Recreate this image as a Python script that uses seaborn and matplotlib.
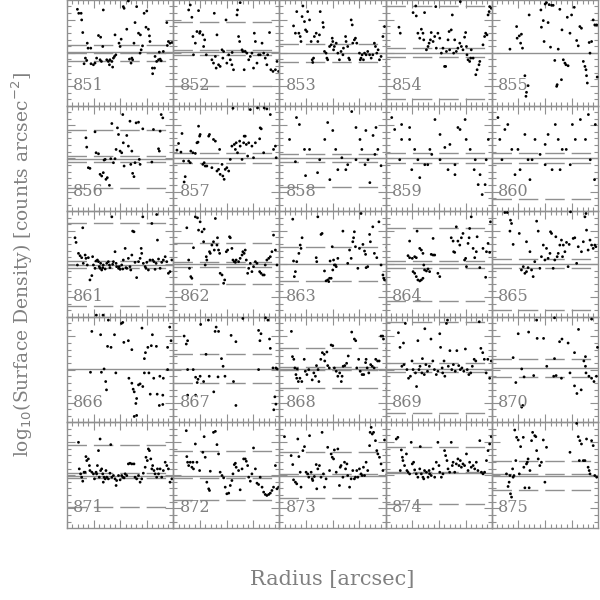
import numpy as np
import pandas as pd
import seaborn as sns
import matplotlib
matplotlib.use("Agg")
import matplotlib.pyplot as plt
from matplotlib.ticker import MultipleLocator

# ---------------- data (radius [arcsec], log10 surface density offset) ----------------
panel_ids = list(range(851, 876))

r851 = [3.9,4.4,5.3,5.5,5.9,7.6,7.9,8.9,6.9,6.4,7.4,9.0,9.9,10.5,11.1,11.8,12.6,13.4,12.4,13.6,12.9,14.9,15.5,16.1,15.9,16.8,17.4,17.1,17.8,18.3,18.0,19.5,20.3,19.9,21.1,21.4,23.0,22.4,23.4,24.3,24.0,24.6,25.1,25.5,26.1,26.8,27.5,27.4,27.8,28.3,28.9,29.9,29.6,30.5,30.9,31.1,32.0,32.8,32.1,33.0,33.6,34.3,34.6,34.9,35.3,36.1,37.6,38.0,38.6,39.4,37.4]
d851 = [1.31,1.19,1.19,0.99,0.61,0.29,0.14,0.14,-0.16,-0.33,-0.23,-0.33,-0.36,-0.31,-0.16,0.52,0.47,0.19,-0.21,1.29,-0.26,-0.21,-0.26,-0.21,-0.36,-0.26,-0.16,-0.43,-0.11,-0.06,0.54,0.29,0.41,0.19,1.39,1.34,1.56,0.71,-0.19,-0.16,-0.31,-0.21,0.29,0.91,1.39,0.59,0.54,-0.01,0.09,0.21,1.19,1.26,0.77,0.71,0.51,0.34,-0.46,-0.46,-0.63,-0.11,-0.26,-0.21,0.02,-0.19,-0.24,0.04,0.22,0.34,0.29,0.31,0.91]

r852 = [6.4,5.8,7.0,9.5,7.4,8.3,8.9,9.9,10.1,11.1,11.8,11.4,7.6,12.4,14.5,15.1,15.4,16.4,15.8,16.1,17.0,17.6,18.3,18.9,18.6,19.8,20.1,20.8,21.4,22.0,22.6,22.1,23.9,24.1,24.5,24.9,25.1,25.8,26.1,27.0,26.6,27.6,28.3,28.9,29.5,30.1,30.4,30.8,31.4,32.0,32.6,33.3,33.9,34.5,35.1,35.4,36.1,36.6,37.4,38.3,38.9,39.5]
d852 = [1.44,1.29,1.07,1.27,0.49,0.29,0.64,0.59,0.64,0.54,0.39,0.19,-0.06,-0.06,-0.21,-0.31,1.19,0.54,-0.11,-0.46,-0.36,-0.41,0.09,0.04,-0.16,0.99,-0.31,-0.06,-0.21,-0.36,-0.51,0.01,1.14,1.29,0.49,0.34,1.51,0.09,0.04,0.04,-0.51,-0.01,-0.21,-0.11,-0.01,-0.46,0.59,0.34,-0.31,-0.06,-0.06,0.29,-0.01,-0.16,-0.36,-0.06,0.61,-0.51,-0.56,-0.51,-0.26,-0.56]

r853 = [5.3,6.0,6.5,7.3,7.8,8.1,8.5,8.8,9.4,9.8,10.3,10.6,11.3,11.9,12.3,12.5,12.8,13.1,13.8,14.4,15.0,15.3,16.3,16.5,16.9,17.5,17.8,18.1,18.8,19.4,19.8,20.0,20.3,20.6,21.3,21.9,22.5,23.1,23.8,24.0,24.8,25.0,25.6,26.0,26.3,26.9,27.3,27.5,28.1,28.5,29.0,30.0,30.3,30.6,31.0,31.5,31.9,32.5,33.1,33.8,34.4,35.0,35.6,36.0,36.5,37.0,37.5,38.1,38.8,39.4]
d853 = [0.81,0.59,1.24,0.59,0.49,0.34,1.09,1.41,0.94,0.69,0.64,1.24,0.99,0.34,-0.21,-0.29,-0.16,0.49,0.59,0.34,0.54,1.24,0.91,0.77,0.04,-0.01,-0.16,-0.21,0.19,0.24,0.44,0.34,0.09,0.19,0.29,-0.01,-0.21,0.04,-0.06,0.14,0.49,0.34,0.19,-0.16,-0.21,0.99,0.84,0.29,0.39,0.44,0.29,-0.01,-0.21,-0.16,-0.06,-0.21,-0.01,-0.06,0.04,-0.06,-0.16,-0.06,0.29,0.19,-0.01,0.09,-0.21,-0.11,0.49,0.79]

r854 = [5.0,5.5,10.3,11.3,11.5,12.1,12.8,13.4,14.0,14.3,14.6,15.3,15.9,16.3,16.8,17.1,17.8,18.4,18.8,19.0,19.6,20.3,20.9,21.5,22.1,22.5,22.8,23.4,23.8,24.0,24.6,25.0,25.5,25.9,26.5,27.1,27.8,28.0,28.4,29.0,29.6,30.0,30.3,30.5,30.9,31.5,31.9,32.1,32.8,33.8,34.3,35.0,35.3,36.5,37.1,37.5,38.0,38.4,38.8,39.0,39.6]
d854 = [0.77,0.59,1.21,1.41,1.11,0.59,0.44,0.71,0.59,0.39,1.21,0.09,0.19,0.29,0.39,0.61,0.34,0.49,1.39,0.14,0.59,0.44,-0.01,0.14,-0.41,-0.41,0.04,0.39,0.64,0.09,0.69,1.14,-0.01,0.39,0.04,0.14,0.29,1.54,0.19,0.09,0.47,0.61,0.19,-0.06,-0.21,-0.26,-0.16,0.09,-0.16,-0.66,-0.51,-0.36,-0.26,0.24,0.49,0.59,0.54,1.14,1.24,1.39,1.34]

r855 = [12.4,13.0,12.8,13.6,6.8,9.3,9.5,10.3,11.1,10.8,11.5,14.0,18.4,18.6,19.3,19.6,20.0,20.5,21.1,21.5,22.4,23.0,22.0,23.6,24.9,25.5,26.3,26.8,27.4,27.8,28.3,28.6,29.3,29.9,30.9,31.8,32.4,33.0,33.6,34.3,34.9,35.3,35.5,35.8,36.5,36.8,37.4,38.0,38.6,39.3,39.5,24.3,24.5,26.1]
d855 = [-0.69,-1.19,-1.31,-0.99,0.11,0.79,0.44,0.51,0.56,0.29,0.14,1.14,1.29,0.77,0.97,0.34,1.47,1.51,0.91,1.45,1.43,1.43,0.17,-0.23,0.11,1.31,0.69,-0.21,-0.31,-0.36,1.07,-0.39,0.59,1.14,1.37,0.37,0.21,0.79,0.74,-0.26,-0.41,-0.51,-0.69,-0.91,0.31,-0.01,0.34,0.99,0.84,0.84,-0.73,-1.01,-0.96,-0.81]

r856 = [7.1,7.4,8.0,8.6,10.5,10.9,11.8,12.4,13.0,13.6,13.9,14.3,14.6,15.1,15.9,16.4,16.8,17.4,18.0,18.4,18.9,19.3,19.9,20.5,20.9,21.1,21.4,22.4,23.0,23.6,23.9,24.3,24.6,25.1,25.5,25.9,26.8,27.1,27.4,28.4,31.8,32.4,34.3,34.6,34.9,35.3,35.9]
d856 = [0.62,0.34,-0.28,-0.30,0.80,0.17,0.14,-0.48,-0.53,-0.43,-0.05,-0.03,-0.63,-0.58,-0.81,-0.01,1.05,-0.13,-0.01,0.27,0.92,0.72,0.22,0.17,1.32,0.47,-0.23,0.69,0.37,1.12,-0.18,0.22,-0.45,-0.55,-0.13,1.07,1.09,-0.03,-0.18,0.89,-0.11,0.87,0.29,0.22,0.82,1.32,1.22]

r857 = [1.4,2.0,3.3,2.9,3.9,4.1,4.5,5.8,6.4,6.6,7.4,8.3,8.9,9.3,9.5,9.9,10.1,11.1,11.6,12.0,12.6,13.3,13.6,14.5,15.1,15.8,16.4,17.0,17.4,17.6,18.3,18.6,19.1,19.5,20.1,20.8,21.4,22.0,22.4,22.9,23.3,23.6,24.1,24.9,25.1,25.8,26.4,26.6,27.0,27.4,27.9,28.3,28.9,29.5,30.1,30.8,31.6,32.4,32.6,33.0,33.9,34.1,35.1,36.4,37.6,38.3,38.6]
d857 = [0.25,0.45,0.75,0.19,-0.08,-0.71,-0.55,-0.08,-0.13,0.22,0.17,0.15,0.47,0.49,0.97,0.67,0.72,-0.18,-0.13,-0.23,-0.23,0.67,0.72,-0.28,0.57,0.52,-0.38,-0.33,0.27,-0.48,-0.18,-0.53,-0.63,-0.33,-0.28,-0.38,-0.03,0.37,1.51,0.42,0.27,0.47,0.17,0.52,0.37,-0.03,0.47,0.67,0.67,0.42,0.07,0.47,1.47,0.37,0.02,0.47,1.52,0.59,0.92,0.89,0.17,1.52,1.49,1.32,0.27,0.37,0.02]

r858 = [6.4,7.5,18.1,20.0,21.1,23.4,25.6,27.1,28.7,30.2,32.4,35.1,36.9,38.1,6.0,9.8,14.3,18.9,24.9,28.7,32.1,33.9,35.8,11.3,15.1,3.8,9.4,17.0,21.9,30.9,33.2,36.2]
d858 = [1.23,1.02,1.08,0.84,0.27,0.02,-0.19,1.41,0.93,0.57,0.84,0.69,0.27,-0.22,-0.10,-0.52,-0.43,-0.64,-0.34,-0.04,-0.19,-0.73,0.12,0.27,-0.04,0.57,0.27,0.57,-0.34,0.27,-0.04,0.93]

r859 = [3.4,6.0,9.0,12.1,14.7,16.6,20.4,23.4,26.0,27.9,29.8,31.7,33.6,35.4,37.3,5.3,9.8,18.5,24.1,38.5,2.3,6.0,9.0,10.9,12.8,15.8,17.3,20.4,22.2,26.0,27.1,30.2,33.2,34.7,36.2,37.7]
d859 = [0.87,1.02,0.57,-0.04,-0.19,0.27,-0.04,-0.34,-0.49,0.87,1.17,0.27,-0.04,-0.49,-0.79,-0.04,-0.34,1.17,0.42,0.57,1.23,0.57,0.93,0.27,-0.58,-0.19,0.12,0.72,0.33,-0.19,0.93,0.57,-0.34,-0.79,-1.09,-0.04]

r860 = [2.3,4.9,7.5,10.6,13.6,16.2,18.1,21.1,23.8,26.4,29.4,31.3,33.2,36.2,38.8,3.8,8.7,14.3,20.0,25.6,3.0,6.0,9.8,12.4,15.1,20.0,22.6,24.9,27.9,30.2,35.1,36.9,38.5]
d860 = [1.23,0.87,0.27,-0.34,-0.04,0.57,0.12,0.72,1.02,0.27,-0.19,0.57,1.17,1.32,1.02,-0.04,-0.49,-0.64,-0.19,-0.34,0.57,1.02,0.27,0.72,-0.04,0.42,-0.34,0.57,0.27,1.02,0.57,-0.04,-0.64]

r861 = [3.0,3.4,4.3,3.9,4.9,5.5,5.9,6.1,6.8,7.1,7.6,8.0,8.6,9.3,9.6,9.9,10.5,10.9,11.4,11.8,12.1,12.4,12.6,13.0,13.4,13.6,14.3,14.9,15.5,15.9,16.1,16.8,17.1,17.4,18.0,18.4,18.6,19.3,19.6,19.9,20.5,20.9,21.1,21.8,22.1,22.4,23.0,23.6,23.9,24.3,24.6,25.1,25.5,26.1,26.8,27.4,27.8,28.0,28.4,28.6,29.3,29.6,29.9,30.5,31.1,31.8,32.1,32.6,33.0,33.4,33.6,33.9,34.3,34.9,35.5,36.1,36.8,37.4,38.0,38.6,39.3]
d861 = [0.79,0.65,0.32,-0.03,0.25,0.19,1.09,0.02,0.27,0.17,-0.03,0.19,-0.48,-0.35,0.22,-0.03,-0.13,0.09,0.12,0.07,-0.08,-0.13,0.02,-0.18,-0.11,-0.03,-0.15,0.02,0.07,-0.03,-0.11,1.42,-0.01,0.07,0.37,0.02,-0.08,-0.13,-0.08,-0.16,-0.03,-0.15,0.12,0.47,-0.11,-0.13,0.17,-0.08,-0.18,0.27,0.99,0.97,0.05,-0.41,0.07,0.17,0.47,0.32,1.42,0.02,-0.08,-0.13,0.05,-0.18,0.12,1.22,0.12,0.07,-0.16,0.02,1.49,0.72,0.15,-0.13,0.05,0.12,0.22,0.07,-0.28,-0.23,0.12]

r862 = [5.1,5.8,6.1,6.6,7.0,7.6,8.3,9.1,9.5,10.1,10.8,11.4,11.6,12.0,12.4,12.6,13.6,13.9,14.5,15.1,15.4,15.8,16.4,16.6,17.0,17.4,17.6,18.3,18.9,19.3,19.9,20.4,21.1,21.4,22.0,22.4,22.9,23.3,23.6,24.5,25.1,25.8,26.1,26.6,27.0,27.4,27.9,28.3,28.9,29.5,30.1,30.8,31.4,32.4,32.9,33.6,34.1,34.5,35.1,35.8,36.4,37.0,37.6,38.3,38.9]
d862 = [1.09,0.12,-0.13,-0.38,-0.43,0.49,1.42,1.39,1.02,1.27,0.97,0.67,1.05,-0.03,0.22,0.12,0.37,0.32,0.57,0.67,0.42,1.37,0.57,0.79,0.42,0.32,-0.28,-0.33,-0.58,-0.48,0.37,0.42,0.82,0.79,0.47,0.12,0.07,0.05,0.12,0.07,0.17,0.27,0.37,0.32,0.42,0.12,-0.28,-0.13,0.02,-0.23,-0.08,0.07,0.02,-0.23,-0.28,-0.33,-0.33,-0.03,0.12,0.17,0.22,0.37,0.87,0.42,-0.03]

r863 = [5.0,5.3,6.0,5.6,6.5,7.3,7.8,8.1,8.5,13.8,14.0,14.4,15.6,16.0,16.9,17.5,18.1,18.5,18.8,19.0,19.4,19.8,20.0,20.3,20.6,21.0,21.3,21.9,23.8,25.6,26.3,26.9,27.5,27.8,28.1,28.5,29.4,30.0,30.6,31.3,31.9,32.3,32.5,33.1,33.8,34.1,35.0,35.6,36.5,37.3,38.1,38.8,39.1,39.4]
d863 = [1.35,0.09,-0.23,-0.38,0.07,0.32,0.57,0.47,0.79,0.19,0.07,1.42,0.89,0.92,-0.21,-0.51,-0.48,-0.53,-0.43,0.09,-0.43,0.52,-0.18,0.12,-0.03,-0.03,-0.08,0.17,0.99,0.02,0.42,0.17,0.67,0.79,0.97,0.52,-0.13,0.47,1.52,0.59,0.39,0.29,-0.11,-0.08,0.89,0.67,1.12,0.32,0.19,1.27,-0.03,-0.33,-0.43,-0.48]

r864 = [9.0,8.4,9.0,10.0,10.9,11.5,10.3,10.9,11.5,12.1,12.8,13.4,14.0,14.3,14.6,11.8,12.8,13.4,14.0,15.3,15.9,16.5,17.1,17.8,18.4,17.8,19.6,20.3,24.6,25.3,25.5,25.9,26.5,27.1,27.8,28.4,29.0,29.6,30.0,30.3,30.9,31.3,31.5,32.1,32.8,33.4,34.0,34.3,35.3,36.5,37.5,37.8,38.4,39.0,39.3]
d864 = [0.69,0.25,0.19,0.17,0.22,0.19,-0.23,-0.28,-0.38,-0.48,-0.51,-0.48,-0.43,-0.03,-0.18,0.99,0.47,0.42,0.32,-0.21,-0.15,-0.23,0.29,0.27,0.27,0.77,-0.28,-0.38,0.79,0.69,0.37,0.35,1.12,0.69,0.57,0.79,0.92,0.12,0.17,-0.08,0.62,0.79,1.07,1.42,0.47,0.19,0.37,0.82,-0.11,0.47,-0.40,0.37,0.62,0.35,1.27]

r865 = [4.9,5.8,6.8,7.0,7.4,8.0,10.3,11.1,11.8,12.4,13.0,13.0,13.6,14.3,14.9,15.5,16.1,16.8,17.4,18.0,18.6,19.3,19.9,20.5,21.1,21.8,22.0,22.4,23.0,23.6,24.0,24.5,24.9,25.5,26.1,26.5,26.8,27.4,28.0,28.6,29.0,29.5,30.5,31.1,31.8,32.4,33.6,34.3,34.9,35.3,35.5,36.1,36.8,37.4,38.0,38.6,39.0]
d865 = [1.55,1.55,0.99,1.32,1.22,0.59,0.92,-0.18,-0.08,-0.28,0.67,-0.23,-0.11,0.37,-0.18,-0.38,0.07,1.29,0.99,-0.13,0.22,0.57,0.12,0.47,0.17,0.32,0.97,0.92,-0.13,0.12,0.82,0.22,0.32,0.57,0.72,0.22,0.57,0.37,0.65,-0.08,0.59,1.57,0.77,0.79,0.02,0.52,0.37,0.67,1.42,1.52,1.02,0.42,0.72,0.57,0.47,0.57,0.52]

r866 = [9.3,12.6,11.0,13.5,15.5,15.2,16.5,17.8,20.4,20.9,21.3,23.0,24.3,28.1,29.4,29.0,30.3,32.0,31.6,33.5,37.7,38.5,39.0,8.8,12.9,13.9,14.5,14.8,18.3,23.2,24.3,24.8,25.2,26.1,25.8,26.8,27.4,28.4,29.0,30.7,31.2,32.5,33.8,34.8,34.6,35.9,36.1,37.7,25.2,26.1,35.9]
d866 = [1.15,1.05,1.64,1.64,1.49,0.70,0.67,1.05,1.39,1.42,0.82,0.87,0.60,1.25,0.51,0.33,0.67,1.05,0.72,0.70,0.67,1.28,0.87,-0.08,-0.08,0.02,-0.36,-0.61,-0.10,-0.26,-0.41,-0.59,-0.67,-0.87,-1.02,-0.46,-0.43,-0.51,-0.10,-0.10,-0.74,-0.26,-0.74,-0.20,-1.08,-0.77,-0.26,0.00,-1.41,-1.38,-1.05]

r867 = [4.1,5.4,4.9,10.3,13.2,15.7,17.0,16.1,21.7,23.5,26.1,32.0,32.9,34.6,35.5,36.1,36.4,32.5,5.4,7.5,8.4,9.3,11.4,12.3,5.4,8.4,10.1,15.2,16.8,18.1,18.7,19.4,22.6,23.5,32.0,37.4,38.5,39.0,38.1,38.5,37.7,13.5,9.0]
d867 = [1.01,0.87,0.77,1.36,1.49,1.15,1.15,1.28,1.03,0.84,1.54,1.18,1.08,1.56,1.49,0.92,0.64,0.87,0.00,0.00,-0.23,-0.29,-0.36,0.46,-0.77,-0.77,-0.20,-0.67,-0.22,0.33,0.10,-0.20,-0.36,-1.08,0.00,0.05,0.05,0.02,-0.82,-1.04,-1.21,-0.20,-0.39]

r868 = [4.5,4.9,5.4,5.8,6.5,7.1,7.7,8.4,9.3,9.7,10.3,11.0,12.3,12.9,13.5,13.9,14.5,14.8,15.5,16.1,16.8,17.0,17.8,18.1,18.7,19.4,20.0,20.6,21.3,21.9,22.6,23.2,23.5,23.9,24.5,25.2,25.8,27.1,28.1,28.6,29.0,29.7,30.3,31.0,31.6,32.3,32.5,32.9,33.5,34.2,34.8,35.5,36.1,36.8,37.4,38.1,38.7,39.0,6.2,6.7]
d868 = [1.15,0.39,0.31,0.05,-0.26,-0.36,-0.26,-0.36,0.31,-0.05,-0.15,0.00,-0.31,-0.10,-0.20,0.12,0.00,-0.36,0.31,0.51,0.46,0.26,0.53,0.12,0.05,0.74,0.72,0.05,-0.05,-0.20,-0.10,-0.36,-0.20,0.10,0.12,0.19,0.41,1.13,0.92,0.87,0.05,0.31,-0.05,-0.15,-0.15,0.21,0.31,0.05,-0.10,0.15,0.10,0.05,0.31,0.26,0.26,1.01,1.01,0.92,-0.15,0.02]

r869 = [4.8,5.4,6.7,7.4,9.9,11.2,12.1,12.9,13.8,14.7,16.4,17.0,17.7,18.3,19.0,19.6,20.3,20.6,21.2,21.9,22.8,23.2,23.5,24.1,24.8,25.4,26.1,26.7,27.4,28.0,28.6,29.3,29.9,30.6,31.2,31.9,32.5,33.2,33.8,35.1,35.7,36.4,37.0,37.7,38.3,39.0,39.6,6.1,6.9,8.0,8.6,9.3,10.3,11.6,12.5,13.6,14.5,15.1,15.7,21.4,22.2]
d869 = [1.11,0.67,0.80,1.39,0.26,-0.10,0.87,0.10,0.33,1.23,0.10,0.92,0.26,0.00,-0.15,-0.05,1.08,0.67,0.05,0.26,1.39,1.49,0.10,0.57,0.00,0.15,-0.05,0.57,0.12,0.00,0.05,-0.05,0.62,0.00,-0.15,-0.10,0.10,0.31,0.26,1.44,0.64,0.51,0.31,-0.10,0.31,-0.26,0.26,0.10,0.15,0.00,-0.26,-0.20,0.00,-0.51,0.00,-0.10,-0.15,0.15,-0.05,-0.10,-0.20]

r870 = [9.9,13.8,17.0,19.4,16.8,23.5,25.4,26.3,28.6,32.5,31.0,35.1,37.4,39.6,8.0,11.2,9.0,12.1,15.7,23.5,24.1,26.1,29.3,31.0,31.9,33.5,34.5,35.1,36.4,37.4,38.3,39.2,11.6,11.2,23.2,20.6,35.3]
d870 = [1.08,1.13,0.94,0.94,1.49,1.56,0.84,0.92,0.80,1.21,0.51,0.39,1.52,0.67,0.36,0.02,-0.39,-0.22,-0.18,0.33,-0.18,-0.26,-0.10,-0.49,-0.72,-0.61,0.26,0.10,-0.20,-0.26,-0.36,-0.20,-1.08,-1.13,-0.20,0.10,-0.10]

r871 = [4.3,4.6,5.1,5.5,5.9,6.4,6.8,7.1,7.4,8.0,8.4,8.6,9.3,9.9,10.3,10.9,11.1,11.4,11.8,12.1,12.4,12.6,13.0,13.4,13.6,13.9,14.3,14.6,14.9,15.5,16.1,16.4,16.8,17.4,18.0,18.4,18.6,19.3,19.9,20.5,20.9,21.4,21.8,22.4,23.0,23.6,24.3,25.1,25.5,26.1,26.8,27.4,28.0,28.6,29.3,29.6,30.1,30.5,30.9,31.4,31.8,32.1,32.6,33.0,33.6,33.9,34.3,34.9,35.5,36.1,36.8,37.4,38.0,38.6,39.3]
d871 = [0.99,0.19,0.04,-0.06,-0.18,0.09,0.09,0.56,0.44,0.49,0.29,0.14,0.09,0.04,-0.11,0.09,0.04,0.29,0.74,-0.06,1.09,0.14,0.19,0.04,-0.21,-0.06,-0.11,0.14,-0.06,-0.11,0.06,0.92,-0.06,-0.01,-0.11,-0.31,-0.16,-0.01,-0.14,-0.01,-0.06,-0.08,0.04,-0.01,0.34,0.36,0.34,0.34,-0.06,-0.11,-0.01,-0.21,-0.11,0.06,0.24,0.54,0.44,0.79,0.74,0.49,0.19,0.29,0.14,0.04,-0.06,0.19,0.04,0.19,-0.06,0.14,0.39,0.29,0.19,-0.21,-0.11]

r872 = [4.9,5.1,5.4,5.8,6.4,7.0,7.4,7.6,8.3,8.9,9.9,11.1,11.6,12.0,12.6,13.3,13.6,13.9,15.1,15.8,16.4,17.0,17.6,18.3,18.9,19.5,20.1,20.8,21.4,22.0,22.4,22.9,23.3,23.6,24.5,25.1,25.8,26.4,27.0,27.4,27.9,28.3,28.9,29.5,30.1,30.8,31.4,32.0,32.6,33.3,33.9,34.5,35.1,35.8,36.4,37.0,37.6,38.3,38.9,39.5]
d872 = [1.34,0.56,0.39,0.29,0.39,0.24,0.39,0.19,0.94,0.39,0.14,0.69,1.16,0.54,-0.21,-0.41,-0.46,0.12,1.29,1.32,0.92,0.64,0.09,-0.01,-0.08,-0.36,-0.56,-0.54,-0.31,-0.16,0.04,0.32,0.36,0.24,0.14,-0.44,0.19,0.49,0.49,0.42,0.29,-0.06,-0.18,0.04,0.82,0.19,-0.24,-0.28,-0.06,-0.36,-0.51,-0.58,-0.61,-0.58,-0.54,-0.46,-0.36,0.29,-0.41,-0.36]

r873 = [1.9,4.4,5.0,5.3,6.0,6.5,6.9,7.3,7.8,8.1,8.8,9.4,10.0,10.6,11.0,11.3,11.9,12.3,12.5,13.1,13.8,14.0,14.4,15.0,15.6,16.0,16.5,16.9,17.5,18.1,18.8,19.4,19.8,20.3,20.6,21.3,21.9,22.5,22.8,23.1,23.8,24.4,24.8,25.3,25.6,26.3,26.9,27.5,28.1,28.5,29.0,29.4,30.0,30.6,31.0,31.5,31.9,32.5,33.1,33.8,34.0,34.4,34.8,35.3,36.0,36.5,36.9,37.5,38.1,38.8,39.4]
d873 = [1.16,0.59,0.32,-0.14,-0.21,-0.26,1.09,0.56,0.09,-0.36,0.74,0.86,0.09,0.04,-0.06,1.19,0.09,-0.11,-0.16,-0.04,0.32,-0.41,0.19,0.29,-0.06,1.29,0.04,-0.36,-0.11,0.84,0.14,0.64,0.54,0.49,0.76,0.09,0.79,-0.31,0.24,0.29,-0.06,0.39,0.19,0.34,-0.01,-0.36,-0.11,0.14,-0.11,-0.06,0.14,-0.06,0.19,0.04,-0.01,0.24,-0.01,0.39,0.14,0.89,1.29,1.44,1.24,1.29,1.04,0.74,0.64,0.54,0.34,0.14,1.06]

r874 = [4.0,4.6,5.5,5.9,6.3,6.5,7.1,7.8,8.0,8.4,9.0,9.6,10.0,10.5,10.9,11.5,12.1,12.8,13.0,13.4,14.0,14.3,14.6,15.3,15.9,16.3,16.5,17.1,17.8,18.4,19.0,19.6,20.0,20.3,20.9,21.5,22.1,22.5,23.0,23.4,24.0,24.6,25.0,25.3,25.9,26.5,27.1,27.5,28.0,28.4,29.0,29.6,30.3,30.9,31.5,32.1,32.8,33.4,34.0,34.6,35.3,35.9,36.5,37.1,37.8,38.4,39.0,39.6]
d874 = [1.09,1.14,0.14,0.76,0.54,0.44,0.29,0.64,0.14,0.09,0.04,0.99,0.34,0.39,0.16,0.04,-0.06,0.19,0.86,0.04,-0.06,-0.11,0.14,0.09,-0.06,0.14,0.04,-0.01,0.19,-0.06,0.39,0.99,0.29,0.09,-0.06,0.04,0.74,0.59,0.44,0.19,0.09,0.99,0.29,0.39,0.09,0.34,0.49,0.29,0.44,0.24,0.34,0.29,0.64,0.14,0.39,0.24,0.29,0.19,0.39,0.14,1.04,0.09,0.04,0.09,0.44,0.74,0.94,1.16]

r875 = [5.5,6.1,6.5,7.0,7.4,7.8,8.0,8.6,9.0,9.3,9.9,10.3,10.8,11.8,12.0,12.4,13.0,13.3,13.6,14.0,14.3,14.9,15.3,16.1,16.5,16.8,17.4,18.0,18.6,19.3,19.9,20.5,29.3,31.8,32.4,32.8,33.0,33.6,34.3,34.9,35.5,36.1,36.5,36.8,37.4,38.0,38.6,39.3,6.8,8.3]
d875 = [0.04,-0.34,-0.21,-0.56,-0.66,0.19,-0.06,1.36,0.44,1.14,1.06,0.04,0.86,1.14,0.24,-0.38,0.34,0.39,0.49,-0.38,0.14,1.04,1.29,1.19,1.16,0.74,0.49,0.29,0.39,1.06,-0.21,0.84,0.69,1.56,1.16,0.44,1.04,0.94,0.44,0.44,1.09,0.24,0.14,0.04,1.04,0.89,-0.01,-0.06,-0.01,-0.01]

# reference levels: solid line (mean) and dashed lines per panel
mean_level = [0.02,0.02,-0.01,-0.01,-0.01, -0.01,0.00,0.00,0.00,0.00,
              -0.03,0.00,0.00,-0.01,0.00, 0.03,0.03,0.03,0.03,0.05,
              -0.01,-0.01,-0.01,0.06,-0.01]
dash851 = [0.24,-0.24,-0.01]
dash852 = [0.09,-0.06,0.94,-0.99]
dash853 = [0.26,-0.27]
dash854 = [0.14,-0.13,1.41,-1.38]
dash855 = []
dash856 = [0.07,-0.10,0.85,-0.88]
dash857 = [0.17,-0.15]
dash858 = [0.12,-0.12,-0.85]
dash859 = [0.15,-0.15]
dash860 = [0.15,-0.15]
dash861 = [0.09,-0.13,1.22,-1.25]
dash862 = [0.07,-0.10,0.64,-0.61]
dash863 = [0.52,-0.51]
dash864 = [0.10,-0.13,1.07,-1.10]
dash865 = [0.14,-0.13,1.97]
dash866 = []
dash867 = [0.46,-0.39]
dash868 = [0.08,-0.02,0.64,-0.56]
dash869 = [0.19,-0.08,1.42,-1.31]
dash870 = [0.33,-0.22,1.80]
dash871 = [0.06,-0.08,0.92,-0.96]
dash872 = [-0.08,0.72,-0.74]
dash873 = [0.04,0.69,-0.68]
dash874 = [0.11,0.86,-0.88]
dash875 = [0.04,0.44,-0.46]

# ---------------- assemble ----------------
g = globals()
frames = []
for pid in panel_ids:
    frames.append(pd.DataFrame({"panel": pid, "radius": g[f"r{pid}"], "logsd": g[f"d{pid}"]}))
df = pd.concat(frames, ignore_index=True)

sns.set_theme(style="white")
plt.rcParams["font.family"] = ["DejaVu Serif"]

GRAY = "#909090"
TXT = "#808080"

fig = plt.figure(figsize=(6, 6), dpi=100)
W, H = 600.0, 600.0
left0, top0 = 67.0, 0.0
cw, rh = 106.2, 105.6

for i, pid in enumerate(panel_ids):
    r, c = divmod(i, 5)
    x0 = (left0 + c * cw) / W
    y0 = 1 - (top0 + (r + 1) * rh) / H
    ax = fig.add_axes([x0, y0, cw / W, rh / H])
    sub = df[df["panel"] == pid]
    ax.axhline(mean_level[i], color=GRAY, lw=1.0, zorder=1, clip_on=False)
    for v in g[f"dash{pid}"]:
        ax.axhline(v, color=GRAY, lw=1.0, dashes=(14, 5), zorder=1, clip_on=False)
    sns.scatterplot(data=sub, x="radius", y="logsd", ax=ax, color="black",
                    s=4, linewidth=0, edgecolor="none", legend=False, zorder=3, clip_on=False)
    ax.set_xlim(0, 39.8)
    ax.set_ylim(-1.59, 1.59)
    ax.set_xlabel("")
    ax.set_ylabel("")
    ax.xaxis.set_major_locator(MultipleLocator(10))
    ax.xaxis.set_minor_locator(MultipleLocator(2))
    ax.yaxis.set_major_locator(MultipleLocator(1))
    ax.yaxis.set_minor_locator(MultipleLocator(0.2))
    ax.tick_params(which="both", direction="in", top=True, right=True, bottom=True, left=True,
                   labelbottom=False, labelleft=False, color=GRAY, width=0.8)
    ax.tick_params(which="major", length=6)
    ax.tick_params(which="minor", length=3)
    for s in ax.spines.values():
        s.set_color(GRAY)
        s.set_linewidth(1.0)
    ax.patch.set_alpha(0)
    ax.text(0.06, 0.19, str(pid), transform=ax.transAxes, fontsize=11.5, color=TXT,
            va="center", ha="left")

fig.text(332 / W, 1 - 580 / H, "Radius [arcsec]", ha="center", va="center", fontsize=15, color=TXT)
fig.text(22 / W, 1 - 265 / H, r"log$_{10}$(Surface Density) [counts arcsec$^{-2}$]",
         ha="center", va="center", rotation=90, fontsize=13.5, color=TXT)

fig.savefig("out.png", dpi=100)
